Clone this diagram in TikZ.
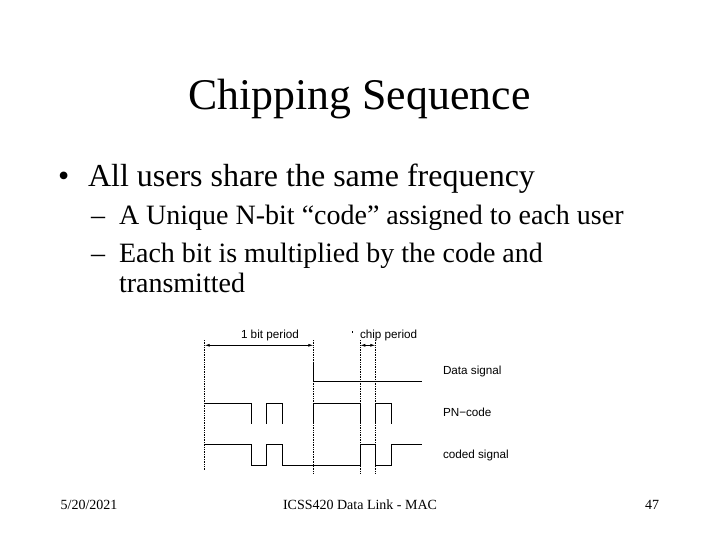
\documentclass[tikz,border=0pt]{standalone}
\usepackage{fontspec}
\setmainfont{Liberation Serif}
\newfontfamily\figfont{Liberation Sans}
\usetikzlibrary{arrows.meta}

\begin{document}
\begin{tikzpicture}[
  x=1pt, y=-1pt,
  >={Latex[length=5pt,width=3pt]},
  every node/.style={inner sep=0pt, outer sep=0pt},
  slidetitle/.style={font=\fontsize{43.8}{48}\selectfont, anchor=base},
  bulletline/.style={font=\fontsize{32}{36}\selectfont, anchor=base west},
  subline/.style={font=\fontsize{28}{32}\selectfont, anchor=base west},
  footline/.style={font=\fontsize{14}{16}\selectfont, anchor=base},
  figlabel/.style={font=\figfont\fontsize{11.7}{14}\selectfont, anchor=base west},
  guide/.style={densely dotted, line width=0.7pt},
  trace/.style={line width=0.9pt},
  span/.style={<->, line width=0.7pt}
]

\def\figXA{204.7}
\def\figXB{251.7}
\def\figXC{266.3}
\def\figXD{282.3}
\def\figXE{313.3}
\def\figXF{360.3}
\def\figXG{375.3}
\def\figXH{391.3}
\def\figXI{422.3}

\useasboundingbox (0,0) rectangle (720,540);
\fill[white] (0,0) rectangle (720,540);

\node[slidetitle] (title) at (359.5,110) {Chipping Sequence};
\node[bulletline] (bullet) at (58,187) {•};
\node[bulletline] (point) at (88,187) {All users share the same frequency};
\node[subline] (dashA) at (91,225) {–};
\node[subline] (subA) at (119,225) {A Unique N-bit “code” assigned to each user};
\node[subline] (dashB) at (91,262) {–};
\node[subline] (subB) at (119,262) {Each bit is multiplied by the code and};
\node[subline] (subC) at (119,292) {transmitted};

\node[figlabel] (bitlabel) at (241,338) {1 bit period};
\node[figlabel] (chiplabel) at (360,338) {chip period};
\node[figlabel] (datalabel) at (443,374) {Data signal};
\node[figlabel] (pnlabel) at (443,416) {PN−code};
\node[figlabel] (codedlabel) at (443,458) {coded signal};

% speck in front of the chip label
\fill (351.7,331) rectangle (353.3,332.6);

% dotted guides
\draw[guide] (\figXA,340) -- (\figXA,470);
\draw[guide] (\figXE,340) -- (\figXE,474);
\draw[guide] (\figXF,340) -- (\figXF,474);
\draw[guide] (\figXG,340) -- (\figXG,474);

% period arrows
\coordinate (bitL) at (\figXA,345.3);
\coordinate (bitR) at (\figXE,345.3);
\coordinate (chipL) at (\figXF,345.3);
\coordinate (chipR) at (\figXG,345.3);
\draw[span] (bitL) -- (bitR);
\draw[span] (chipL) -- (chipR);

% data signal
\draw[trace] (\figXE,361.7) -- (\figXE,381.3) -- (\figXI,381.3);

% PN code
\draw[trace] (\figXA,403.3) -- (\figXB,403.3) -- (\figXB,423.7);
\draw[trace] (\figXC,423.7) -- (\figXC,403.3) -- (\figXD,403.3) -- (\figXD,423.7);
\draw[trace] (\figXE,423.7) -- (\figXE,403.3) -- (\figXF,403.3) -- (\figXF,423.7);
\draw[trace] (\figXG,423.7) -- (\figXG,403.3) -- (\figXH,403.3) -- (\figXH,423.7);

% coded signal
\draw[trace] (\figXA,444) -- (\figXB,444) -- (\figXB,465.3) -- (\figXC,465.3)
  -- (\figXC,444) -- (\figXD,444) -- (\figXD,465.3) -- (\figXF,465.3)
  -- (\figXF,444) -- (\figXG,444) -- (\figXG,465.3) -- (\figXH,465.3)
  -- (\figXH,444) -- (\figXI,444);

\node[footline] (date) at (89,509) {5/20/2021};
\node[footline] (course) at (360,509) {ICSS420 Data Link - MAC};
\node[footline] (page) at (652,509) {47};

\end{tikzpicture}
\end{document}
